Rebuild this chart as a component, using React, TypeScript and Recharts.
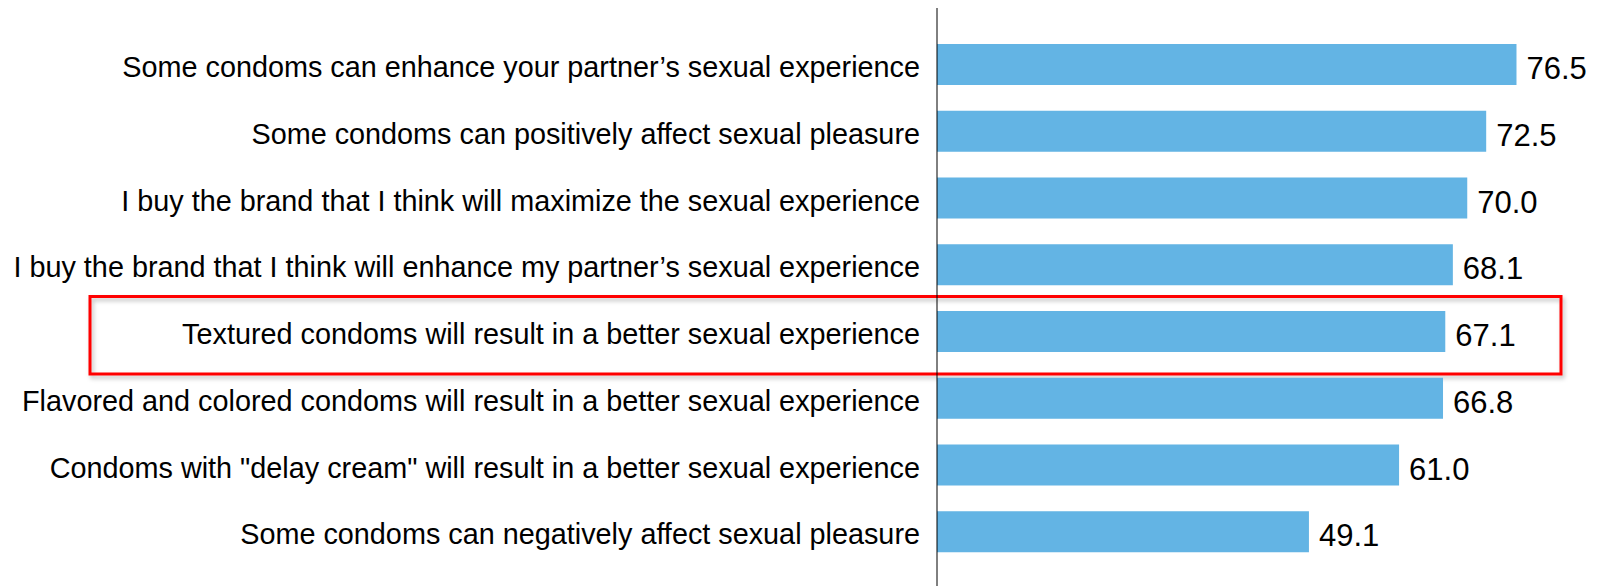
import { Bar, BarChart, LabelList, XAxis, YAxis } from 'recharts';

// Agreement with statements about condoms and sexual experience (%).
const statements = [
  'Some condoms can enhance your partner\u2019s sexual experience',
  'Some condoms can positively affect sexual pleasure',
  'I buy the brand that I think will maximize the sexual experience',
  'I buy the brand that I think will enhance my partner\u2019s sexual experience',
  'Textured condoms will result in a better sexual experience',
  'Flavored and colored condoms will result in a better sexual experience',
  'Condoms with "delay cream" will result in a better sexual experience',
  'Some condoms can negatively affect sexual pleasure',
];
const agreement = [76.5, 72.5, 70.0, 68.1, 67.1, 66.8, 61.0, 49.1];
const highlighted = statements[4];

const BAR_BLUE = '#63B4E4';
const FONT = '"Liberation Sans", Arial, sans-serif';

const rows = statements.map((statement, i) => ({
  statement,
  value: agreement[i],
}));

// Plain bar, plus the red call-out frame around the highlighted row.
function FramedBar(props: any) {
  const { x, y, width, height, payload } = props;
  return (
    <g>
      <rect x={x} y={y} width={width} height={height} fill={BAR_BLUE} />
      {payload.statement === highlighted && (
        <rect
          x={x - 847}
          y={y - 14.5}
          width={1471}
          height={height + 36.5}
          fill="none"
          stroke="#FF0000"
          strokeWidth={3}
          filter="url(#frameShadow)"
        />
      )}
    </g>
  );
}

export default function App() {
  return (
    <div style={{ position: 'absolute', left: 0, top: 0, background: '#fff' }}>
      <BarChart
        width={1604}
        height={586}
        data={rows}
        layout="vertical"
        margin={{ top: 8, right: 61, bottom: 0, left: 0 }}
      >
        <defs>
          <filter id="frameShadow" x="-5%" y="-30%" width="110%" height="160%">
            <feDropShadow dx="2" dy="3" stdDeviation="2" floodColor="#000" floodOpacity={0.25} />
          </filter>
        </defs>
        <XAxis type="number" domain={[0, 80]} hide />
        <YAxis
          type="category"
          dataKey="statement"
          width={937}
          padding={{ top: 23, bottom: 21 }}
          axisLine={{ stroke: '#000', strokeWidth: 1 }}
          tickLine={false}
          tickSize={0}
          tickMargin={17}
          interval={0}
          tick={{ fill: '#000', fontSize: 28.8, fontFamily: FONT, dy: 2.5 }}
        />
        <Bar
          dataKey="value"
          barSize={41}
          shape={<FramedBar />}
          isAnimationActive={false}
        >
          <LabelList
            dataKey="value"
            position="right"
            offset={10}
            formatter={(v: any) => Number(v).toFixed(1)}
            style={{ fill: '#000', fontSize: 31, fontFamily: FONT }}
            dy={3.5}
          />
        </Bar>
      </BarChart>
    </div>
  );
}
